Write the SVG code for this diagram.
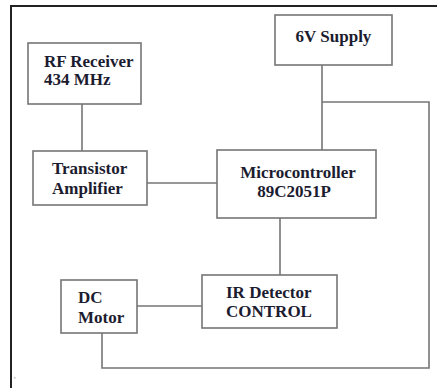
<svg xmlns="http://www.w3.org/2000/svg" width="437" height="388" viewBox="0 0 437 388">
<style>
.box{fill:#ffffff;stroke:#757575;stroke-width:1.6}
.wire{fill:none;stroke:#757575;stroke-width:1.6}
.frame{fill:none;stroke:#222222;stroke-width:2}
text{font-family:"Liberation Serif","Times New Roman",serif;font-weight:bold;font-size:17px;fill:#1c1c30}
.mid{text-anchor:middle}
</style>
<rect width="437" height="388" fill="#ffffff"/>
<g id="frame">
<path class="frame" d="M10 6 H437 M11 6 V388"/>
<text x="14" y="383" style="font-size:9px;fill:#888888;font-weight:normal">'</text>
</g>
<g id="connectors">
<path class="wire" d="M82 104 V151"/>
<path class="wire" d="M147 183 H217"/>
<path class="wire" d="M322 65 V150"/>
<path class="wire" d="M322 102 H429 V368 H102 V333"/>
<path class="wire" d="M280 218 V275"/>
<path class="wire" d="M137 306 H202"/>
</g>
<g id="rf-receiver">
<rect class="box" x="28" y="43" width="113" height="61"/>
<text x="44" y="67">RF Receiver</text>
<text x="44" y="85">434 MHz</text>
</g>
<g id="transistor-amplifier">
<rect class="box" x="33" y="151" width="114" height="54"/>
<text x="52" y="174">Transistor</text>
<text x="52" y="194">Amplifier</text>
</g>
<g id="supply">
<rect class="box" x="275" y="15" width="117" height="50"/>
<text class="mid" x="333.5" y="42">6V Supply</text>
</g>
<g id="microcontroller">
<rect class="box" x="217" y="150" width="159" height="68"/>
<text class="mid" x="298" y="178">Microcontroller</text>
<text class="mid" x="294" y="197">89C2051P</text>
</g>
<g id="ir-detector">
<rect class="box" x="202" y="275" width="135" height="53"/>
<text x="226" y="298">IR Detector</text>
<text x="226" y="317">CONTROL</text>
</g>
<g id="dc-motor">
<rect class="box" x="61" y="280" width="76" height="53"/>
<text x="78" y="303">DC</text>
<text x="78" y="323">Motor</text>
</g>
</svg>
